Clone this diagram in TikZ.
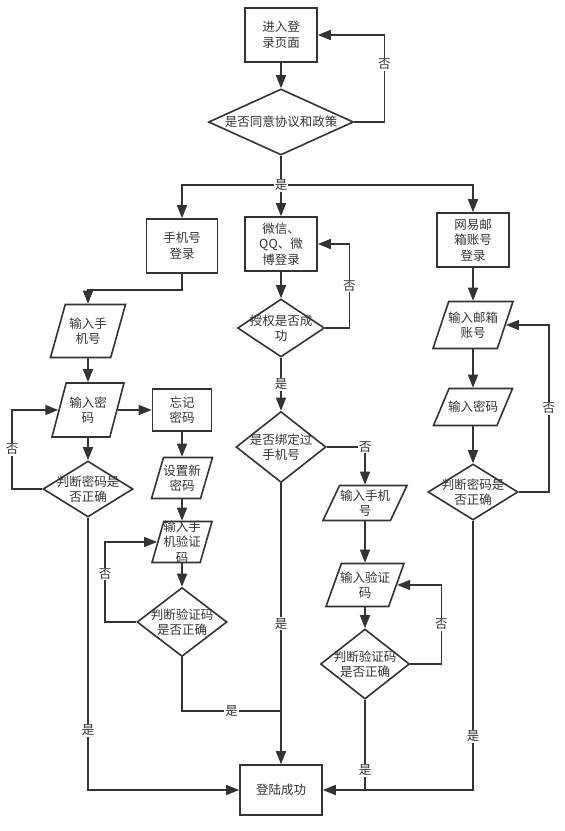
\documentclass[tikz,border=0pt]{standalone}
\usepackage{fontspec}
\newfontfamily\cjkfont{Noto Sans CJK SC}
\usetikzlibrary{shapes.geometric, arrows.meta}
\definecolor{linegray}{HTML}{333333}

\begin{document}
\begin{tikzpicture}[x=1pt, y=-1pt,
  font={\cjkfont\fontsize{12.5}{15.5}\selectfont},
  every node/.style={text=linegray},
  procbox/.style={draw=linegray, line width=1.6pt, rectangle, minimum width=72pt, minimum height=54pt, align=center, inner sep=1pt},
  iobox/.style={draw=linegray, line width=1.6pt, trapezium, trapezium left angle=72, trapezium right angle=108, trapezium stretches=true, inner sep=1pt},
  decision/.style={draw=linegray, line width=1.6pt, diamond, inner sep=1pt},
  inside/.style={label={[align=center, inner sep=0pt]center:#1}},
  flow/.style={draw=linegray, line width=1.6pt},
  arrow/.style={flow, -{Triangle[length=13pt, width=10pt]}},
  answer/.style={fill=white, inner sep=1pt}
]
\useasboundingbox (0,0) rectangle (565,831);

% login page and agreement
\node[procbox] at (281, 35) (start) {进入登\\录页面};
\node[decision, minimum width=145pt, minimum height=66pt, inside={是否同意协议和政策}] at (281,122) (agree) {};
\coordinate (split) at (281,185);

% three ways to log in
\node[procbox, minimum width=71pt] at (182,246) (phone) {手机号\\登录};
\node[procbox] at (281,244) (social) {微信、\\QQ、微\\博登录};
\node[procbox] at (473,240) (mail) {网易邮\\箱账号\\登录};

% phone branch
\node[iobox, minimum width=75pt, minimum height=53pt, inside={输入手\\机号}] at (88,331) (phoneno) {};
\node[iobox, minimum width=72pt, minimum height=54pt, inside={输入密\\码}] at (88,410) (phonepwd) {};
\node[decision, minimum width=90pt, minimum height=56pt, inside={判断密码是\\否正确}] at (88,489) (phonepwdok) {};
\node[procbox, minimum width=59pt, minimum height=42pt] at (182,410) (forget) {忘记\\密码};
\node[iobox, minimum width=61pt, minimum height=41pt, inside={设置新\\密码}] at (182,478) (newpwd) {};
\node[iobox, minimum width=60pt, minimum height=41pt, inside={输入手\\机验证\\码}] at (182,542) (smscode) {};
\node[decision, minimum width=90pt, minimum height=69pt, inside={判断验证码\\是否正确}] at (182,622) (smsok) {};
\coordinate (pjoin) at (281,711);

% social branch
\node[decision, minimum width=87pt, minimum height=58pt, inside={授权是否成\\功}] at (281,328) (auth) {};
\node[decision, minimum width=90pt, minimum height=71pt, inside={是否绑定过\\手机号}] at (281,447) (bind) {};
\node[iobox, minimum width=84pt, minimum height=35pt, inside={输入手机\\号}] at (365,503) (bindphone) {};
\node[iobox, minimum width=78pt, minimum height=43pt, inside={输入验证\\码}] at (365,585) (bindcode) {};
\node[decision, minimum width=89pt, minimum height=70pt, inside={判断验证码\\是否正确}] at (365,664) (bindcodeok) {};

% mail branch
\node[iobox, minimum width=80pt, minimum height=47pt, inside={输入邮箱\\账号}] at (473,325) (mailacc) {};
\node[iobox, minimum width=79pt, minimum height=37pt, inside={输入密码}] at (473,407) (mailpwd) {};
\node[decision, minimum width=90pt, minimum height=56pt, inside={判断密码是\\否正确}] at (473,492) (mailpwdok) {};

% success
\node[procbox, minimum width=82pt, minimum height=50pt] at (281,790) (done) {登陆成功};
\coordinate (mjoin) at (bindcodeok.south |- done.east);

% top connectors
\draw[arrow] (start.south) -- (agree.north);
\draw[arrow] (agree.east) -- ++(30,0) |- (start.east) node[answer, pos=0.33] {否};
\draw[flow] (agree.south) -- (split);
\draw[arrow] (split) -| (phone.north);
\draw[arrow] (split) -| (mail.north);
\draw[arrow] (split) -- (social.north);
\node[answer] at (split) {是};

% phone connectors
\draw[arrow] (phone.south) -- ++(0,16) -| (phoneno.north);
\draw[arrow] (phoneno.south) -- (phonepwd.north);
\draw[arrow] (phonepwd.south) -- (phonepwdok.north);
\draw[arrow] (phonepwdok.west) -- ++(-30,0) |- (phonepwd.west) node[answer, pos=0.25] {否};
\draw[arrow] (phonepwdok.south) |- (done.west) node[answer, pos=0.39] {是};
\draw[arrow] (phonepwd.east) -- (forget.west);
\draw[arrow] (forget.south) -- (newpwd.north);
\draw[arrow] (newpwd.south) -- (smscode.north);
\draw[arrow] (smscode.south) -- (smsok.north);
\draw[arrow] (smsok.west) -- ++(-31,0) |- (smscode.west) node[answer, pos=0.3] {否};
\draw[flow] (smsok.south) |- (pjoin) node[answer, pos=0.75] {是};

% social connectors
\draw[arrow] (social.south) -- (auth.north);
\draw[arrow] (auth.east) -- ++(24,0) |- (social.east) node[answer, pos=0.25] {否};
\draw[arrow] (auth.south) -- (bind.north) node[answer, midway] {是};
\draw[arrow] (bind.south) -- (done.north) node[answer, midway] {是};
\draw[arrow] (bind.east) -| (bindphone.north) node[answer, pos=0.5] {否};
\draw[arrow] (bindphone.south) -- (bindcode.north);
\draw[arrow] (bindcode.south) -- (bindcodeok.north);
\draw[arrow] (bindcodeok.east) -- ++(31,0) |- (bindcode.east) node[answer, pos=0.25] {否};
\draw[flow] (bindcodeok.south) -- (mjoin) node[answer, pos=0.78] {是};

% mail connectors
\draw[arrow] (mail.south) -- (mailacc.north);
\draw[arrow] (mailacc.south) -- (mailpwd.north);
\draw[arrow] (mailpwd.south) -- (mailpwdok.north);
\draw[arrow] (mailpwdok.east) -- ++(30,0) |- (mailacc.east) node[answer, pos=0.25] {否};
\draw[arrow] (mailpwdok.south) |- (done.east) node[answer, pos=0.4] {是};

\end{tikzpicture}
\end{document}
